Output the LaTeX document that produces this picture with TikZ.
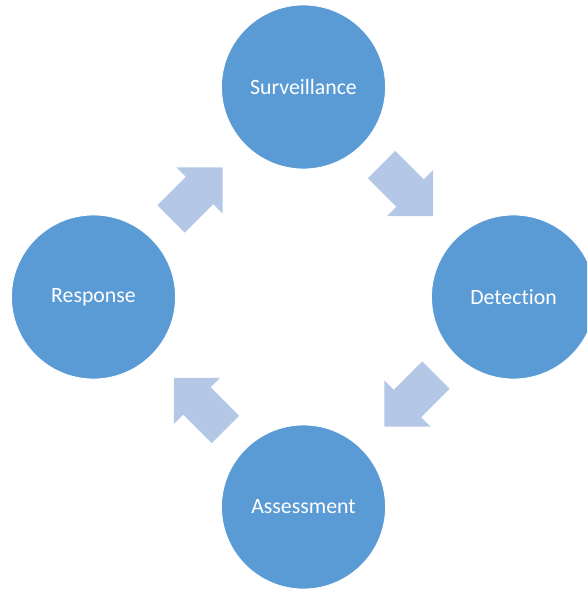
\documentclass[tikz,border=0pt]{standalone}
\usepackage{fontspec}
\setmainfont{Carlito}[RawFeature=-liga]
\usetikzlibrary{shapes.arrows}
\definecolor{stageblue}{HTML}{5B9BD5}
\definecolor{flowblue}{HTML}{B4C7E7}
\begin{document}
\begin{tikzpicture}[x=0.025cm, y=-0.025cm,
  stage/.style={circle, fill=stageblue, draw=white, line width=0.6pt, minimum size=4.1cm, text=white, font=\fontsize{15.5}{18}\selectfont},
  flow/.style={single arrow, fill=flowblue, single arrow tip angle=90, single arrow head extend=0.3375cm, inner xsep=0pt, inner ysep=0.475cm, minimum height=1.825cm, anchor=tip}]
\useasboundingbox (0,0) rectangle (587,590);
\clip (0,0) rectangle (587,590);
% the four stages
\node[stage] (surv) at (303.5,87) {Surveillance};
\node[stage] (detect) at (513.5,297) {Detection};
\node[stage] (assess) at (303.5,507) {Assessment};
\node[stage] (resp) at (93.5,297) {Response};
% block arrows between them
\node[flow, rotate=45] (respsurv) at (223,167) {};
\node[flow, rotate=-45] (survdetect) at (433.5,216.5) {};
\node[flow, rotate=-135] (detectassess) at (384,427) {};
\node[flow, rotate=135] (assessresp) at (173.5,377.5) {};
\end{tikzpicture}
\end{document}
